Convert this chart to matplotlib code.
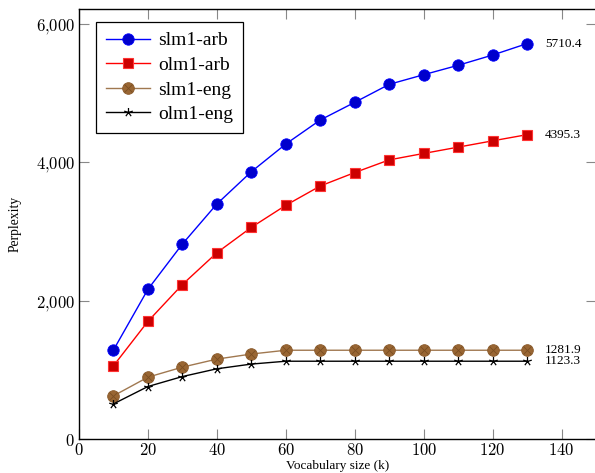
import numpy as np
import matplotlib
matplotlib.use("Agg")
import matplotlib.pyplot as plt
from matplotlib.path import Path
from matplotlib.ticker import FixedLocator, FuncFormatter

plt.rcParams['mathtext.fontset'] = 'cm'

vocab = [10, 20, 30, 40, 50, 60, 70, 80, 90, 100, 110, 120, 130]
slm1_arb = [1285, 2162, 2816, 3394, 3860, 4260, 4607, 4862, 5122, 5261, 5397, 5545, 5710.4]
olm1_arb = [1057, 1699, 2231, 2690, 3056, 3375, 3654, 3848, 4031, 4124, 4215, 4306, 4395.3]
slm1_eng = [623, 893, 1038, 1154, 1227, 1281.9, 1281.9, 1281.9, 1281.9, 1281.9, 1281.9, 1281.9, 1281.9]
olm1_eng = [507, 758, 902, 1014, 1082, 1123.3, 1123.3, 1123.3, 1123.3, 1123.3, 1123.3, 1123.3, 1123.3]
end_labels = ["5710.4", "4395.3", "1281.9", "1123.3"]
x_ticks = [0, 20, 40, 60, 80, 100, 120, 140]
y_ticks = [0, 2000, 4000, 6000]

# 5-spoke asterisk marker (pgfplots "star")
verts, codes = [], []
for k in range(5):
    a = np.pi / 2 + k * 2 * np.pi / 5
    verts += [(0, 0), (np.cos(a), np.sin(a))]
    codes += [Path.MOVETO, Path.LINETO]
star = Path(verts, codes)

W, H = 595, 473
fig = plt.figure(figsize=(W / 100, H / 100), dpi=100)
ax = fig.add_axes([79 / W, 1 - 439 / H, (596 - 79) / W, (439 - 9) / H])

serif = ['Liberation Serif', 'DejaVu Serif']

ax.plot(vocab, slm1_arb, color='#0000ff', lw=1.0, marker='o', ms=8.2,
        mfc='#0000cc', mec='#0000ff', mew=0.6, label='slm1-arb', zorder=3)
ax.plot(vocab, olm1_arb, color='#ff0000', lw=1.0, marker='s', ms=7.6,
        mfc='#cc0000', mec='#ff3333', mew=0.8, label='olm1-arb', zorder=3)
l3, = ax.plot(vocab, slm1_eng, color='#a07850', lw=1.0, marker='o', ms=8.4,
              mfc='#996633', mec='#8a5a2b', mew=0.6, zorder=3)
l3x, = ax.plot(vocab, slm1_eng, ls='none', marker='x', ms=5.6, mec='#7a4e22',
               mew=0.6, zorder=4)
ax.plot(vocab, olm1_eng, color='black', lw=1.0, marker=star, ms=6.5,
        mec='black', mew=0.9, label='olm1-eng', zorder=3)

ax.set_xlim(0, 150)
ax.set_ylim(0, 6210)

ends = [slm1_arb[-1], olm1_arb[-1], slm1_eng[-1], olm1_eng[-1]]
for v, t in zip(ends, end_labels):
    ax.annotate(t, xy=(vocab[-1], v), xytext=(13, 0), textcoords='offset points',
                va='center', ha='left', fontsize=9.5, family=serif)

ax.xaxis.set_major_locator(FixedLocator(x_ticks))
ax.yaxis.set_major_locator(FixedLocator(y_ticks))
ax.xaxis.set_major_formatter(FuncFormatter(lambda v, p: r'$%d$' % v))
ax.yaxis.set_major_formatter(FuncFormatter(
    lambda v, p: (r'$%d{,}%03d$' % (v // 1000, v % 1000)) if v >= 1000 else r'$%d$' % v))
ax.tick_params(direction='in', length=7, width=0.8, color='#888888',
               top=True, right=True, labelsize=12, pad=3)
ax.tick_params(axis='x', pad=1.5)
for s in ax.spines.values():
    s.set_linewidth(1.0)
    s.set_color('black')

ax.set_xlabel('Vocabulary size (k)', family=serif, fontsize=9.5, labelpad=1)
ax.set_ylabel('Perplexity', family=serif, fontsize=9.8, labelpad=10)

h1, lab1 = ax.get_legend_handles_labels()
handles = [h1[0], h1[1], (l3, l3x), h1[2]]
labels = ['slm1-arb', 'olm1-arb', 'slm1-eng', 'olm1-eng']
leg = ax.legend(handles, labels, loc='upper left', bbox_to_anchor=(17 / 517, 1 - 13 / 430),
                prop={'family': serif, 'size': 14}, frameon=True, fancybox=False,
                edgecolor='black', framealpha=1, borderpad=0.5, labelspacing=0.36,
                handlelength=2.3, handletextpad=0.4, borderaxespad=0)
leg.get_frame().set_linewidth(0.9)

fig.savefig('out.png', dpi=100)
